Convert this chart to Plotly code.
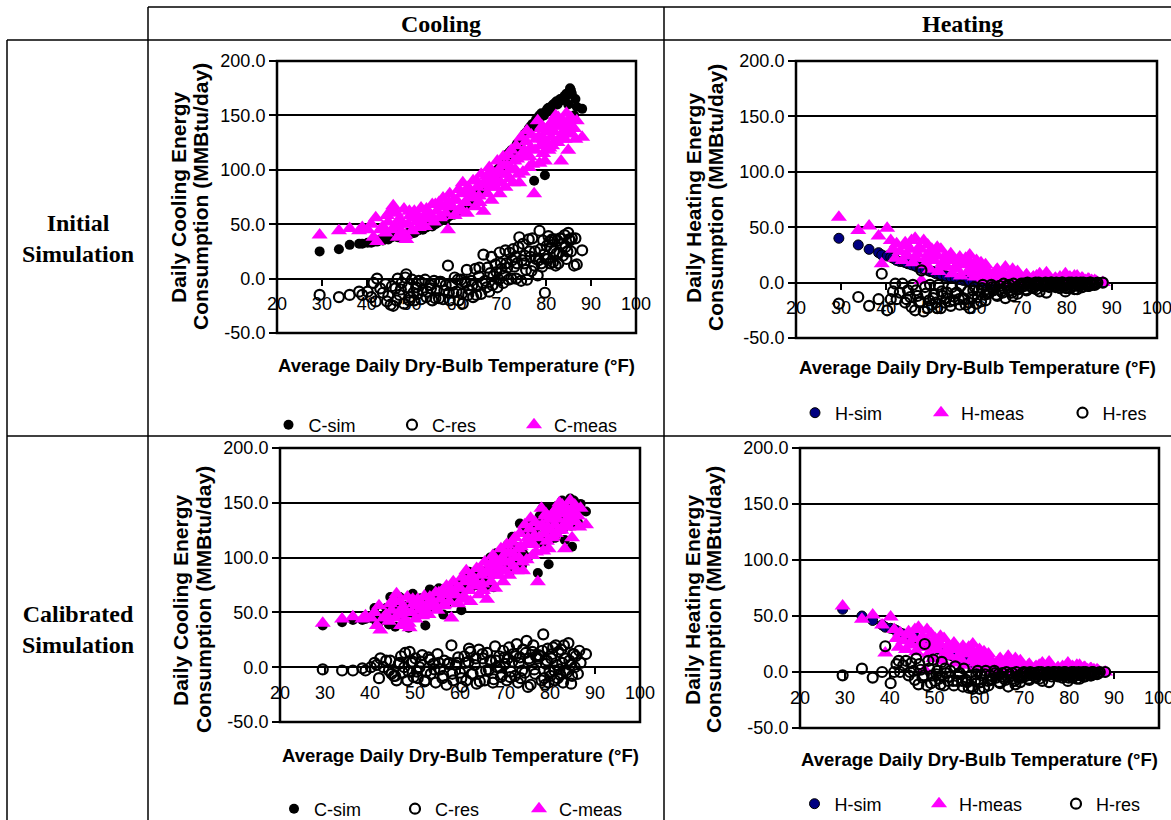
import plotly.graph_objects as go

# ---------------- data ----------------
temp_f = [29.5, 33.8, 36.2, 38.3, 39.0, 40.2,
          41.0, 41.5, 42.0, 42.3, 43.0, 43.6, 44.2, 44.8, 45.3, 45.9, 46.4, 46.9, 47.3, 47.8, 48.3, 48.8, 49.2, 49.7,
          50.1, 50.6, 51.0, 51.6, 52.1, 52.5, 53.0, 53.5, 54.1, 54.6, 55.0, 55.6, 56.1, 56.5, 57.0, 57.6, 58.1, 58.5, 59.0, 59.6,
          60.0, 60.5, 61.0, 61.4, 61.9, 62.3, 62.8, 63.3, 63.7, 64.2, 64.6, 65.1, 65.5, 66.0, 66.4, 66.9, 67.3, 67.8, 68.2, 68.7, 69.1, 69.6,
          70.0, 70.4, 70.9, 71.3, 71.8, 72.2, 72.6, 73.1, 73.5, 74.0, 74.4, 74.8, 75.3, 75.7, 76.1, 76.5, 76.9, 77.3, 77.7, 78.1, 78.5, 78.9, 79.3, 79.7,
          80.1, 80.5, 80.9, 81.3, 81.7, 82.1, 82.5, 82.9, 83.3, 83.7, 84.1, 84.5, 84.9, 85.3, 85.7, 86.2, 86.8, 88.0,
          44.5, 45.6, 46.6, 47.6, 48.6, 49.5, 50.4, 51.3, 52.3, 53.3, 54.3, 55.3, 56.3, 57.3, 58.3, 59.3,
          60.3, 61.2, 62.0, 62.6, 63.5, 64.4, 65.0, 65.8, 66.7, 67.5, 68.0, 68.9, 69.4, 69.9,
          70.6, 71.1, 71.6, 72.4, 72.9, 73.3, 73.8, 74.6, 75.1, 75.5, 76.3, 76.7, 77.5, 78.3, 78.7, 79.1, 79.5, 79.9,
          80.3, 80.7, 81.1, 81.5, 81.9, 82.3, 82.7, 83.1, 83.5, 84.3, 84.7, 85.1, 85.5, 86.5]

cooling_meas = [40, 44, 46, 44, 47, 45,
                50, 38, 56, 34, 45, 48, 42, 52, 62, 67, 48, 38, 55, 43, 64, 36, 50, 58,
                44, 62, 52, 47, 65, 56, 48, 60, 55, 68, 52, 62, 70, 57, 74, 60, 45, 78, 66, 58,
                72, 82, 64, 88, 70, 60, 80, 74, 90, 66, 84, 70, 96, 62, 88, 78, 102, 72, 92, 84, 108, 78,
                96, 112, 84, 104, 92, 118, 88, 100, 110, 88, 130, 98, 112, 136, 102, 120, 105, 78, 128, 145, 106, 138, 115, 108,
                125, 118, 142, 122, 135, 150, 125, 140, 108, 145, 128, 152, 118, 140, 133, 138, 145, 130,
                58, 45, 60, 50, 40, 62, 56, 58, 50, 64, 58, 68, 56, 66, 70, 72,
                62, 78, 70, 84, 78, 90, 76, 86, 94, 84, 98, 90, 100, 88,
                104, 96, 114, 100, 108, 122, 96, 112, 118, 126, 112, 132, 118, 130, 122, 140, 128, 135,
                138, 120, 130, 145, 125, 140, 148, 128, 132, 138, 144, 135, 148, 128]

cooling_sim_initial = [25, 27, 31, 32, 32, 33,
                       33, 34, 35, 34, 36, 35, 37, 36, 38, 42, 39, 38, 40, 39, 41, 40, 42, 41,
                       43, 42, 44, 45, 46, 45, 47, 48, 49, 48, 50, 51, 52, 54, 55, 54, 57, 58, 60, 59,
                       60, 62, 63, 65, 66, 68, 70, 72, 73, 75, 77, 80, 82, 84, 86, 88, 90, 92, 94, 97, 100, 102,
                       105, 108, 110, 114, 116, 118, 115, 120, 124, 126, 128, 130, 133, 135, 138, 140, 142, 90, 146, 148, 150, 152, 150, 95,
                       155, 157, 156, 158, 160, 162, 160, 164, 145, 166, 168, 170, 160, 175, 170, 150, 158, 156,
                       37, 38, 40, 40, 41, 42, 43, 44, 46, 47, 49, 50, 53, 55, 57, 59,
                       61, 64, 67, 69, 72, 75, 78, 82, 86, 89, 92, 96, 99, 102,
                       107, 110, 113, 117, 119, 122, 125, 129, 132, 134, 137, 139, 143, 147, 149, 151, 150, 153,
                       156, 154, 158, 160, 161, 163, 162, 165, 164, 167, 169, 171, 173, 165]

cooling_res_initial = [-15, -17, -15, -12, -15, -12,
                       -17, -4, -21, 0, -9, -13, -5, -16, -24, -25, -9, 0, -15, -4, -23, 4, -8, -17,
                       -1, -20, -8, -2, -19, -11, -1, -12, -6, -20, -2, -11, -18, -3, -19, -6, 12, -20, -6, 1,
                       -12, -20, -1, -23, -4, 8, -10, -2, -17, 9, -7, 10, -14, 22, -2, 10, -12, 20, 2, 13, -8, 24,
                       9, -4, 26, 10, 24, 0, 27, 20, 14, 38, -2, 32, 21, -1, 36, 20, 37, 12, 18, 3, 44, 14, 35, -13,
                       30, 39, 14, 36, 25, 12, 35, 24, 37, 21, 40, 18, 42, 35, 37, 12, 13, 26,
                       -21, -7, -20, -10, 1, -20, -13, -14, -4, -17, -9, -18, -3, -11, -13, -13,
                       -1, -14, -3, -15, -6, -15, 2, -4, -8, 5, -6, 6, -1, 14,
                       3, 14, -1, 17, 11, 0, 29, 17, 14, 8, 25, 7, 25, 17, 27, 11, 22, 18,
                       18, 34, 28, 15, 36, 23, 14, 37, 32, 29, 25, 36, 25, 37]

cooling_sim_calibrated = [38, 41, 43, 43, 44, 45,
                          54, 40, 46, 42, 45, 54, 39, 46, 54, 55, 51, 48, 50, 56, 52, 50, 54, 49,
                          52, 52, 52, 58, 52, 52, 57, 54, 58, 54, 64, 60, 60, 63, 58, 64, 65, 66, 68, 67,
                          67, 64, 74, 76, 75, 74, 74, 76, 75, 82, 80, 78, 84, 75, 86, 84, 88, 91, 92, 94, 99, 93,
                          99, 100, 102, 100, 104, 110, 109, 104, 100, 104, 125, 122, 120, 120, 116, 118, 115, 86, 138, 133, 136, 122, 121, 94,
                          117, 130, 139, 142, 125, 148, 141, 126, 116, 140, 150, 154, 110, 152, 143, 132, 149, 142,
                          64, 37, 64, 50, 36, 67, 52, 63, 38, 71, 56, 72, 48, 69, 64, 76,
                          52, 82, 87, 78, 86, 77, 88, 83, 100, 73, 104, 90, 93, 97,
                          112, 87, 119, 110, 94, 131, 93, 125, 100, 132, 132, 126, 129, 145, 112, 143, 145, 131,
                          146, 138, 118, 147, 139, 133, 152, 148, 129, 144, 129, 147, 148, 143]

cooling_res_calibrated = [-2, -3, -3, -1, -3, 0,
                          4, 2, -10, 8, 0, 6, -3, -6, -8, -12, 3, 10, -5, 13, -12, 14, 4, -9,
                          8, -10, 0, 11, -13, -4, 9, -6, 3, -14, 12, -2, -10, 6, -16, 4, 20, -12, 2, 9,
                          -5, -18, 10, -12, 5, 14, -6, 2, -15, 16, -4, 8, -12, 13, -2, 6, -14, 19, 0, 10, -9, 15,
                          3, -12, 18, -4, 12, -8, 21, 4, -10, 16, -5, 24, 8, -16, 14, -2, 10, 8, 10, -12, 30, -16, 6, -14,
                          -8, 12, -3, 20, -10, -2, 16, -14, 8, -5, 22, 2, -8, 12, 10, -6, 4, 12,
                          6, -8, 4, 0, -4, 5, -4, 5, -12, 7, -2, 4, -8, 3, -6, 4,
                          -10, 4, 17, -6, 8, -13, 12, -3, 6, -11, 6, 0, -7, 9,
                          8, -9, 5, 10, -14, 9, -3, 13, -18, 6, 20, -6, 11, 15, -10, 3, 17, -4,
                          8, 18, -12, 2, 14, -7, 4, 20, -3, 6, -15, 12, 0, 15]

heating_meas = [59, 47, 51, 42, 17, 49,
                38, 30, 22, 35, 28, 20, 36, 24, 30, 18, 40, 26, 32, 2, 38, 22, 34, 12,
                30, 20, 26, 10, 30, 18, 24, 14, 22, 8, 20, 12, 18, 6, 16, 22, 10, 25, 14, 5,
                20, 8, 18, 3, 12, 6, 9, 2, 7, 4, 12, 3, 8, 1, 14, 5, 2, 9, 1, 6, 10, 2,
                4, 1, 6, 0, 3, 1, 5, 0, 2, 8, 1, 3, 0, 2, 4, 0, 1, 3, 0, 2, 5, 0, 1, 8,
                2, 0, 4, 1, 6, 0, 3, 1, 4, 0, 2, 1, 3, 0, 1, 2, 0, 0,
                33, 38, 22, 30, 16, 27, 24, 32, 15, 20, 26, 14, 23, 18, 20, 8,
                14, 6, 16, 10, 4, 11, 6, 9, 3, 7, 12, 4, 6, 1,
                3, 7, 1, 4, 2, 6, 0, 3, 1, 9, 2, 0, 4, 1, 3, 0, 2, 5,
                1, 5, 0, 3, 1, 6, 2, 0, 4, 1, 3, 0, 2, 1]

heating_sim_initial = [40, 34, 30, 27, 25, 24,
                       23, 22, 21, 20, 19, 19, 18, 17, 17, 16, 15, 14, 14, 13, 12, 12, 11, 10,
                       10, 9, 8, 8, 7, 6, 6, 5, 5, 4, 4, 3, 3, 3, 2, 2, 2, 2, 1, 1,
                       1, 1, 1, 1, 1, 0, 0, 0, 0, 0, 0, 0, 0, 0, 0, 0, 0, 0, 0, 0, 0, 0,
                       0, 0, 0, 0, 0, 0, 0, 0, 0, 0, 0, 0, 0, 0, 0, 0, 0, 0, 0, 0, 0, 0, 0, 0,
                       0, 0, 0, 0, 0, 0, 0, 0, 0, 0, 0, 0, 0, 0, 0, 0, 0, 0,
                       18, 16, 15, 13, 12, 11, 10, 9, 7, 6, 5, 4, 3, 3, 2, 1,
                       1, 1, 0, 0, 0, 0, 0, 0, 0, 0, 0, 0, 0, 0,
                       0, 0, 0, 0, 0, 0, 0, 0, 0, 0, 0, 0, 0, 0, 0, 0, 0, 0,
                       0, 0, 0, 0, 0, 0, 0, 0, 0, 0, 0, 0, 0, 0]

heating_res_initial = [-19, -13, -21, -15, 8, -25,
                       -15, -8, -1, -15, -9, -1, -18, -7, -13, -2, -25, -12, -18, 11, -26, -10, -23, -2,
                       -20, -11, -18, -2, -23, -12, -18, -9, -17, -4, -16, -9, -15, -3, -14, -20, -8, -23, -13, -4,
                       -19, -7, -17, -2, -11, -6, -9, -2, -7, -4, -12, -3, -8, -1, -14, -5, -2, -9, -1, -6, -10, -2,
                       -4, -1, -6, 0, -3, -1, -5, 0, -2, -8, -1, -3, 0, -2, -4, 0, -1, -3, 0, -2, -5, 0, -1, -8,
                       -2, 0, -4, -1, -6, 0, -3, -1, -4, 0, -2, -1, -3, 0, -1, -2, 0, 0,
                       -15, -22, -7, -17, -4, -16, -14, -23, -8, -14, -21, -10, -20, -15, -18, -7,
                       -13, -5, -16, -10, -4, -11, -6, -9, -3, -7, -12, -4, -6, -1,
                       -3, -7, -1, -4, -2, -6, 0, -3, -1, -9, -2, 0, -4, -1, -3, 0, -2, -5,
                       -1, -5, 0, -3, -1, -6, -2, 0, -4, -1, -3, 0, -2, -1]

heating_sim_calibrated = [56, 50, 46, 42, 40, 39,
                          38, 37, 32, 35, 34, 30, 33, 32, 31, 30, 29, 28, 27, 27, 26, 25, 24, 23,
                          22, 21, 20, 19, 18, 17, 16, 15, 14, 13, 12, 11, 10, 9, 9, 8, 7, 10, 6, 6,
                          5, 5, 4, 4, 4, 3, 3, 3, 2, 2, 2, 2, 2, 1, 1, 1, 1, 1, 1, 1, 1, 1,
                          0, 0, 0, 0, 0, 0, 0, 0, 0, 0, 0, 0, 0, 0, 0, 0, 0, 0, 0, 0, 0, 0, 0, 0,
                          0, 0, 0, 0, 0, 0, 0, 0, 0, 0, 0, 0, 0, 0, 0, 0, 0, 0,
                          33, 31, 29, 27, 26, 24, 22, 21, 18, 16, 14, 12, 10, 9, 7, 6,
                          5, 4, 4, 3, 3, 2, 2, 2, 1, 1, 1, 1, 1, 1,
                          0, 0, 0, 0, 0, 0, 0, 0, 0, 0, 0, 0, 0, 0, 0, 0, 0, 0,
                          0, 0, 0, 0, 0, 0, 0, 0, 0, 0, 0, 0, 0, 0]

heating_res_calibrated = [-3, 3, -5, 0, 23, -10,
                          0, 7, 10, 0, 6, 10, -3, 8, 1, 12, -11, 2, -5, 25, -12, 3, -10, 11,
                          -8, 1, -6, 9, -12, -1, -8, 1, -8, 5, -8, -1, -8, 3, -7, -14, -3, -15, -8, 1,
                          -15, -3, -14, 1, -8, -3, -6, 1, -5, -2, -10, -1, -6, 0, -13, -4, -1, -8, 0, -5, -9, -1,
                          -4, -1, -6, 0, -3, -1, -5, 0, -2, -8, -1, -3, 0, -2, -4, 0, -1, -3, 0, -2, -5, 0, -1, -8,
                          -2, 0, -4, -1, -6, 0, -3, -1, -4, 0, -2, -1, -3, 0, -1, -2, 0, 0,
                          0, -7, 7, -3, 10, -3, -2, -11, 3, -4, -12, -2, -13, -9, -13, -2,
                          -9, -2, -12, -7, -1, -9, -4, -7, -2, -6, -11, -3, -5, 0,
                          -3, -7, -1, -4, -2, -6, 0, -3, -1, -9, -2, 0, -4, -1, -3, 0, -2, -5,
                          -1, -5, 0, -3, -1, -6, -2, 0, -4, -1, -3, 0, -2, -1]

x_tick_values = [20, 30, 40, 50, 60, 70, 80, 90, 100]
x_tick_labels = ["20", "30", "40", "50", "60", "70", "80", "90", "100"]
y_tick_values = [-50, 0, 50, 100, 150, 200]
y_tick_labels = ["-50.0", "0.0", "50.0", "100.0", "150.0", "200.0"]

column_headers = ["Cooling", "Heating"]
row_headers = ["Initial<br>Simulation", "Calibrated<br>Simulation"]
x_title = "Average Daily Dry-Bulb Temperature (°F)"
y_title_cooling = ["Daily Cooling Energy", "Consumption (MMBtu/day)"]
y_title_heating = ["Daily Heating Energy", "Consumption (MMBtu/day)"]

# ---------------- layout helpers ----------------
W, H = 1171, 820
SANS = "Liberation Sans, Arial, sans-serif"
SERIF = "Liberation Serif, Times New Roman, serif"
MAGENTA = "#FF00FF"


def fx(p):
    return p / W


def fy(p):
    return 1 - p / H


sim_c_marker = dict(symbol="circle", size=10, color="black", line=dict(width=0))
sim_h_marker = dict(symbol="circle", size=10, color="#000080", line=dict(width=1, color="black"))
res_marker = dict(symbol="circle-open", size=10, color="black", line=dict(width=2.2, color="black"))
meas_marker = dict(symbol="triangle-up", size=14, color=MAGENTA, line=dict(width=0))

panels = [
    dict(box=(277, 636, 61, 333), ytitle_x=(178, 200), ytitle_y=197, ytitle=y_title_cooling,
         xtitle_pos=(456, 366),
         series=[("C-sim", cooling_sim_initial, sim_c_marker, (292, 305, 425)),
                 ("C-res", cooling_res_initial, res_marker, (416, 428, 425)),
                 ("C-meas", cooling_meas, meas_marker, (538, 550, 425))]),
    dict(box=(796, 1157, 61, 338), ytitle_x=(693, 715), ytitle_y=198, ytitle=y_title_heating,
         xtitle_pos=(977, 368),
         series=[("H-sim", heating_sim_initial, sim_h_marker, (818, 832, 413)),
                 ("H-meas", heating_meas, meas_marker, (945, 957, 413)),
                 ("H-res", heating_res_initial, res_marker, (1086, 1099, 413))]),
    dict(box=(280, 640, 448, 722), ytitle_x=(180, 203), ytitle_y=600, ytitle=y_title_cooling,
         xtitle_pos=(460, 755),
         series=[("C-sim", cooling_sim_calibrated, sim_c_marker, (297, 311, 809)),
                 ("C-res", cooling_res_calibrated, res_marker, (419, 431, 809)),
                 ("C-meas", cooling_meas, meas_marker, (543, 555, 809))]),
    dict(box=(800, 1159, 448, 728), ytitle_x=(692, 713), ytitle_y=600, ytitle=y_title_heating,
         xtitle_pos=(979, 759),
         series=[("H-sim", heating_sim_calibrated, sim_h_marker, (817, 832, 804)),
                 ("H-meas", heating_meas, meas_marker, (943, 955, 804)),
                 ("H-res", heating_res_calibrated, res_marker, (1080, 1092, 804))]),
]

fig = go.Figure()
layout = dict(width=W, height=H, autosize=False,
              margin=dict(l=0, r=0, t=0, b=0, pad=0, autoexpand=False),
              paper_bgcolor="white", plot_bgcolor="rgba(0,0,0,0)",
              font=dict(family=SANS, color="black"), showlegend=True)
annotations = []
shapes = []
legend_idx = 0

for i, p in enumerate(panels):
    n = "" if i == 0 else str(i + 1)
    x0, x1, top, bot = p["box"]
    ylo, yhi = fy(bot), fy(top)
    zero_frac = ylo + (yhi - ylo) * (0 - (-50)) / 250.0
    layout["xaxis" + n] = dict(
        domain=[fx(x0), fx(x1)], range=[20, 100], anchor="free", position=zero_frac,
        tickvals=x_tick_values, ticktext=x_tick_labels, showgrid=False, zeroline=False,
        showline=True, linecolor="black", linewidth=2, ticks="outside", ticklen=6,
        tickcolor="black", tickwidth=1.5, tickfont=dict(size=18, family=SANS, color="black"),
        ticklabelstandoff=3, ticklabeloverflow="allow", layer="below traces",
        fixedrange=True, automargin=False)
    layout["yaxis" + n] = dict(
        domain=[ylo, yhi], range=[-50, 200], anchor="x" + n,
        tickvals=y_tick_values, ticktext=y_tick_labels, showgrid=True, gridcolor="black",
        gridwidth=1.5, zeroline=False, showline=False, ticks="outside", ticklen=7,
        tickcolor="black", tickwidth=1.5, tickfont=dict(size=18, family=SANS, color="black"),
        ticklabelstandoff=0, fixedrange=True, automargin=False)
    shapes.append(dict(type="rect", xref="x" + n + " domain", yref="y" + n + " domain",
                       x0=0, x1=1, y0=0, y1=1, line=dict(color="black", width=2.5)))
    for line_text, lx in zip(p["ytitle"], p["ytitle_x"]):
        annotations.append(dict(text="<b>" + line_text + "</b>", textangle=-90, xref="paper", yref="paper",
                                x=fx(lx), y=fy(p["ytitle_y"]), xanchor="center",
                                yanchor="middle", showarrow=False, align="center",
                                font=dict(size=21, family=SANS, color="black")))
    annotations.append(dict(text="<b>" + x_title + "</b>", xref="paper", yref="paper",
                            x=fx(p["xtitle_pos"][0]), y=fy(p["xtitle_pos"][1]), xanchor="center",
                            yanchor="middle", showarrow=False,
                            font=dict(size=18.5, family=SANS, color="black")))
    for name, vals, marker, (mx, tx, ly) in p["series"]:
        legend_idx += 1
        lname = "legend" if legend_idx == 1 else "legend" + str(legend_idx)
        fig.add_trace(go.Scatter(x=temp_f, y=vals, mode="markers", name=name, marker=marker,
                                 xaxis="x" + n, yaxis="y" + n, legend=lname, hoverinfo="skip"))
        mid = (mx + tx) / 2.0
        layout[lname] = dict(x=fx(mid - 30), y=fy(ly), xanchor="left", yanchor="middle",
                             orientation="h", bgcolor="rgba(0,0,0,0)", borderwidth=0,
                             font=dict(size=18, family=SANS, color="black"),
                             itemclick=False, itemdoubleclick=False)

# table headers
annotations.append(dict(text="<b>" + column_headers[0] + "</b>", xref="paper", yref="paper",
                        x=fx(441), y=fy(24), xanchor="center", yanchor="middle", showarrow=False,
                        font=dict(size=24, family=SERIF, color="black")))
annotations.append(dict(text="<b>" + column_headers[1] + "</b>", xref="paper", yref="paper",
                        x=fx(962), y=fy(24), xanchor="center", yanchor="middle", showarrow=False,
                        font=dict(size=24, family=SERIF, color="black")))
annotations.append(dict(text="<b>" + row_headers[0] + "</b>", xref="paper", yref="paper",
                        x=fx(78), y=fy(238), xanchor="center", yanchor="middle", showarrow=False,
                        align="center", font=dict(size=24, family=SERIF, color="black")))
annotations.append(dict(text="<b>" + row_headers[1] + "</b>", xref="paper", yref="paper",
                        x=fx(78), y=fy(629), xanchor="center", yanchor="middle", showarrow=False,
                        align="center", font=dict(size=24, family=SERIF, color="black")))

# table rules
table_lines = [
    (148, 7, 1171, 7),
    (7, 40, 1171, 40),
    (7, 436, 1171, 436),
    (7, 40, 7, 820),
    (148, 7, 148, 820),
    (664, 7, 664, 820),
]
for (ax0, ay0, ax1, ay1) in table_lines:
    shapes.append(dict(type="line", xref="paper", yref="paper", x0=fx(ax0), y0=fy(ay0),
                       x1=fx(ax1), y1=fy(ay1), line=dict(color="black", width=1.5)))

layout["annotations"] = annotations
layout["shapes"] = shapes
fig.update_layout(**layout)
fig.write_html("out.html", config={"displayModeBar": False, "staticPlot": False},
               post_script="document.body.style.margin='0px';document.body.style.overflow='hidden';")
